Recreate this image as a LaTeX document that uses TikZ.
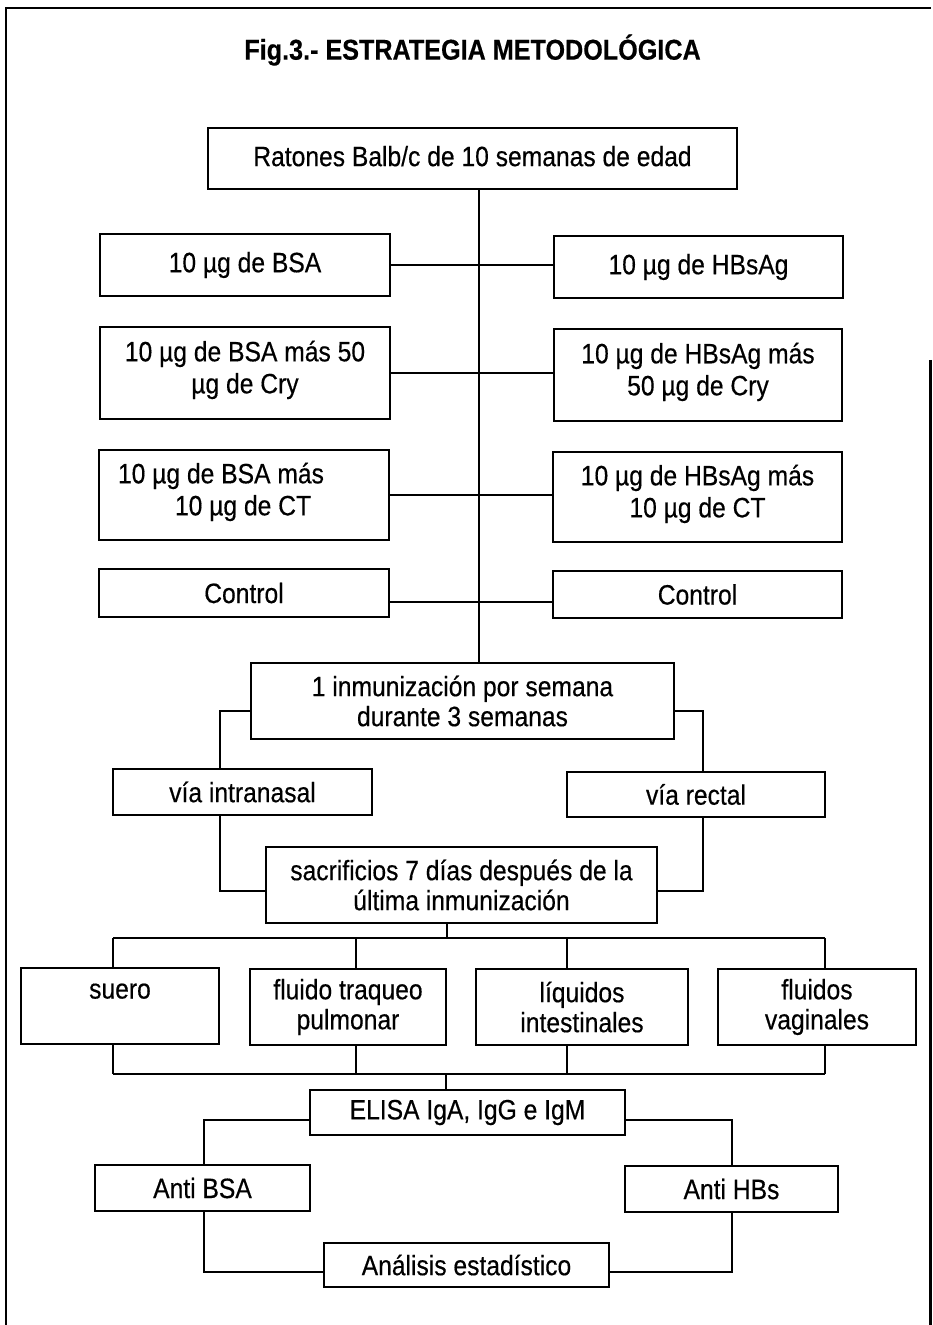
\documentclass[tikz,border=0pt]{standalone}
\usepackage{fontspec}
\setmainfont{Liberation Sans}[FakeStretch=0.88, FakeBold=0.4]
\usetikzlibrary{calc}
\tikzset{
  box/.style={draw, line width=1pt, inner sep=0pt, align=center,
    font=\fontsize{14}{15}\selectfont},
  wide/.style={font=\fontsize{14}{16}\selectfont},
  conn/.style={line width=0.8pt},
  frame/.style={line width=1.1pt}
}
\begin{document}
\begin{tikzpicture}[x=0.5pt,y=-0.5pt]
\useasboundingbox (0,0) rectangle (932,1325);
% outer frame
\coordinate (fa) at (6,1325);
\coordinate (fb) at (6,8);
\coordinate (fc) at (930.5,8);
\coordinate (fd) at (930.5,360);
\coordinate (fe) at (930.5,1325);
\draw[frame] (fa) -- (fb) -- (fc);
\draw[frame] (fd) -- (fe);
% title
\node (title) at (472.5,50) {\fontsize{14.3}{15}\selectfont\bfseries Fig.3.- ESTRATEGIA METODOLÓGICA};
% boxes
\node[box, minimum width=264.5pt, minimum height=30.5pt] (rat) at (472.5,158.5) {\raisebox{2.5pt}{Ratones Balb/c de 10 semanas de edad}};
\node[box, minimum width=145pt, minimum height=31pt] (bsa) at (245,265) {\raisebox{2pt}{10 µg de BSA}};
\node[box, minimum width=144.5pt, minimum height=31pt] (hbs) at (698.5,267) {\raisebox{2pt}{10 µg de HBsAg}};
\node[box, wide, minimum width=145pt, minimum height=46pt] (bsacry) at (245,373) {10 µg de BSA más 50\\µg de Cry\rule[-6pt]{0pt}{1pt}};
\node[box, wide, minimum width=144pt, minimum height=46pt] (hbscry) at (698,375) {10 µg de HBsAg más\\50 µg de Cry\rule[-6pt]{0pt}{1pt}};
\node[box, wide, minimum width=145pt, minimum height=45pt, text width=145pt, align=flush left] (bsact) at (244,495) {\hspace*{9.5pt}10 µg de BSA más\\\hspace*{38pt}10 µg de CT\rule[-6pt]{0pt}{1pt}};
\node[box, wide, minimum width=144.5pt, minimum height=45pt] (hbsct) at (697.5,497) {10 µg de HBsAg más\\10 µg de CT\rule[-6pt]{0pt}{1pt}};
\node[box, minimum width=145pt, minimum height=24pt] (ctl) at (244,593) {Control};
\node[box, minimum width=144.5pt, minimum height=23.5pt] (ctr) at (697.5,594.5) {Control};
\node[box, minimum width=211.5pt, minimum height=38pt] (inm) at (462.5,701) {1 inmunización por semana\\durante 3 semanas};
\node[box, minimum width=129.5pt, minimum height=23pt] (via1) at (242.5,792) {vía intranasal};
\node[box, minimum width=129pt, minimum height=22.5pt] (via2) at (696,794.5) {vía rectal};
\node[box, minimum width=195.5pt, minimum height=38pt] (sac) at (461.5,885) {sacrificios 7 días después de la\\última inmunización};
\node[box, minimum width=99pt, minimum height=38pt] (suero) at (120,1006) {suero\\\phantom{x}};
\node[box, minimum width=98pt, minimum height=38pt] (fluido) at (348,1007) {fluido traqueo\\pulmonar};
\node[box, minimum width=106pt, minimum height=38pt] (liq) at (582,1007) {líquidos\\intestinales};
\node[box, minimum width=99pt, minimum height=38pt] (vag) at (817,1007) {fluidos\\vaginales};
\node[box, minimum width=157.5pt, minimum height=22.5pt] (elisa) at (467.5,1112.5) {ELISA IgA, IgG e IgM};
\node[box, minimum width=107.5pt, minimum height=23pt] (antib) at (202.5,1188) {Anti BSA};
\node[box, minimum width=106.5pt, minimum height=23pt] (antih) at (731.5,1189) {Anti HBs};
\node[box, minimum width=142.5pt, minimum height=22pt] (anal) at (466.5,1265) {Análisis estadístico};
% helper coordinates
\coordinate (trunk) at (479,0);
\coordinate (ylc) at (0,602);
\coordinate (yinm) at (0,711);
\coordinate (xl) at (220,0);
\coordinate (xr) at (703,0);
\coordinate (ysac) at (0,891);
\coordinate (ybus1) at (0,938);
\coordinate (ybus2) at (0,1074);
\coordinate (x1) at (113,0);
\coordinate (x2) at (356,0);
\coordinate (x3) at (567,0);
\coordinate (x4) at (825,0);
\coordinate (xs) at (447,0);
\coordinate (xe) at (446,0);
\coordinate (yel) at (0,1120);
\coordinate (xab) at (204,0);
\coordinate (xah) at (732,0);
\coordinate (yan) at (0,1272);
% connectors
\draw[conn] (rat.south -| trunk) -- (inm.north -| trunk);
\draw[conn] (bsa.east) -- (bsa.east -| hbs.west);
\draw[conn] (bsacry.east) -- (bsacry.east -| hbscry.west);
\draw[conn] (bsact.east) -- (bsact.east -| hbsct.west);
\draw[conn] (ctl.east |- ylc) -- (ctr.west |- ylc);
\draw[conn] (inm.west |- yinm) -| (via1.north -| xl);
\draw[conn] (inm.east |- yinm) -| (via2.north -| xr);
\draw[conn] (via1.south -| xl) |- (sac.west |- ysac);
\draw[conn] (via2.south -| xr) |- (sac.east |- ysac);
\draw[conn] (sac.south -| xs) -- (xs |- ybus1);
\draw[conn] (x1 |- ybus1) -- (x4 |- ybus1);
\draw[conn] (x1 |- ybus1) -- (suero.north -| x1);
\draw[conn] (x2 |- ybus1) -- (fluido.north -| x2);
\draw[conn] (x3 |- ybus1) -- (liq.north -| x3);
\draw[conn] (x4 |- ybus1) -- (vag.north -| x4);
\draw[conn] (suero.south -| x1) -- (x1 |- ybus2);
\draw[conn] (fluido.south -| x2) -- (x2 |- ybus2);
\draw[conn] (liq.south -| x3) -- (x3 |- ybus2);
\draw[conn] (vag.south -| x4) -- (x4 |- ybus2);
\draw[conn] (x1 |- ybus2) -- (x4 |- ybus2);
\draw[conn] (xe |- ybus2) -- (elisa.north -| xe);
\draw[conn] (elisa.west |- yel) -| (antib.north -| xab);
\draw[conn] (elisa.east |- yel) -| (antih.north -| xah);
\draw[conn] (antib.south -| xab) |- (anal.west |- yan);
\draw[conn] (antih.south -| xah) |- (anal.east |- yan);
\end{tikzpicture}
\end{document}
